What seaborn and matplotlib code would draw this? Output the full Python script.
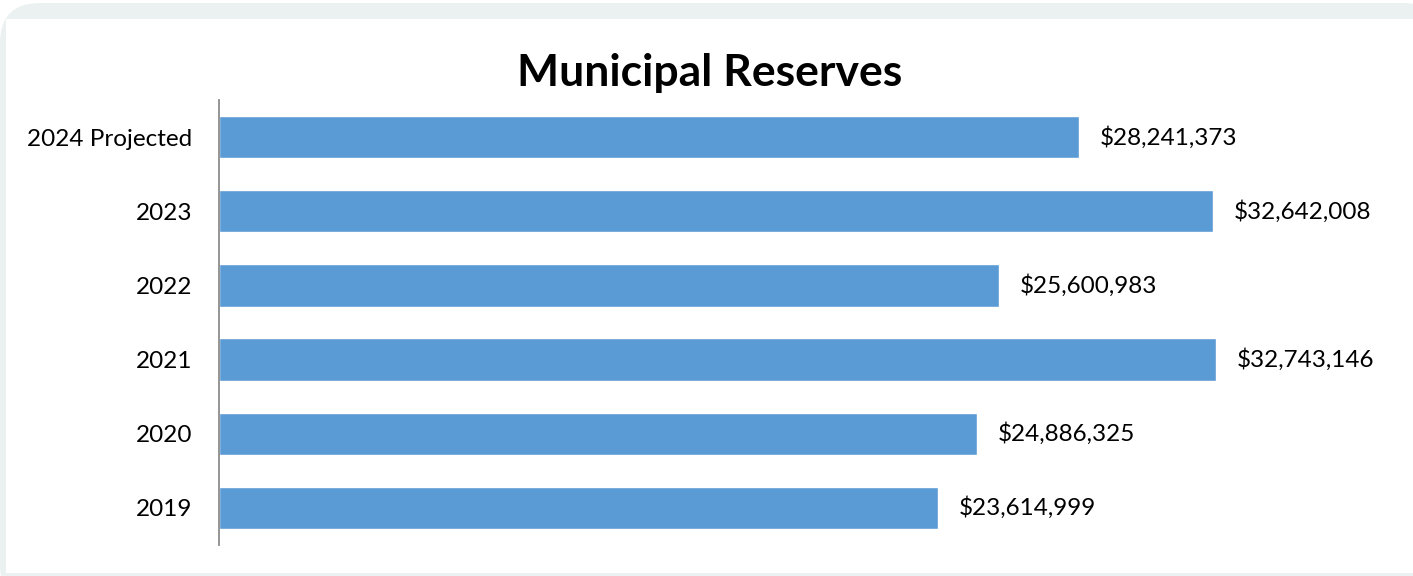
import matplotlib
matplotlib.use("Agg")
import matplotlib.pyplot as plt
from matplotlib.patches import FancyBboxPatch, Rectangle
import seaborn as sns
import pandas as pd

# Chart data
years = ["2024 Projected", "2023", "2022", "2021", "2020", "2019"]
reserves = [28241373, 32642008, 25600983, 32743146, 24886325, 23614999]

df = pd.DataFrame({"Year": years, "Reserves": reserves})

sns.set_style("white")
plt.rcParams["font.family"] = ["Lato", "DejaVu Sans"]
plt.rcParams["text.color"] = "black"
plt.rcParams["ytick.color"] = "black"

W, H = 1413, 576
fig = plt.figure(figsize=(W / 100, H / 100), dpi=100)
fig.patch.set_facecolor("white")

# Outer light frame with rounded top corners, white panel inside
frame = FancyBboxPatch((0, -30), W + 30, H + 30 - 3, boxstyle="round,pad=0,rounding_size=40",
                       transform=None, facecolor="#EBF1F1", edgecolor="none", zorder=-3)
fig.patches.append(frame)
panel = Rectangle((6, 3), W, H - 3 - 19, transform=None,
                  facecolor="white", edgecolor="none", zorder=-2)
fig.patches.append(panel)

# Axes placed in pixel terms
left, right, top, bottom = 219, 1395, 100, 545
ax = fig.add_axes([left / W, 1 - bottom / H, (right - left) / W, (bottom - top) / H])
ax.set_facecolor("none")

sns.barplot(data=df, x="Reserves", y="Year", orient="h", color="#5B9BD5",
            saturation=1, width=0.57, ax=ax)

ax.set_xlim(0, (right - left) / 30.45 * 1e6)
ax.set_ylim(5.5, -0.5)
ax.set_xlabel("")
ax.set_ylabel("")
ax.set_xticks([])
ax.tick_params(axis="y", length=0, pad=19, labelsize=17.5, labelcolor="black")

for side in ["top", "right", "bottom"]:
    ax.spines[side].set_visible(False)
ax.spines["left"].set_color("#8C8C8C")
ax.spines["left"].set_linewidth(1.3)

ax.bar_label(ax.containers[0], labels=[f"${v:,.0f}" for v in reserves],
             padding=15, fontsize=17.5, color="black")

fig.text(710 / W, 1 - 73 / H, "Municipal Reserves", ha="center", va="center",
         fontsize=32, fontweight="bold", color="black")

fig.savefig("out.png", dpi=100)
